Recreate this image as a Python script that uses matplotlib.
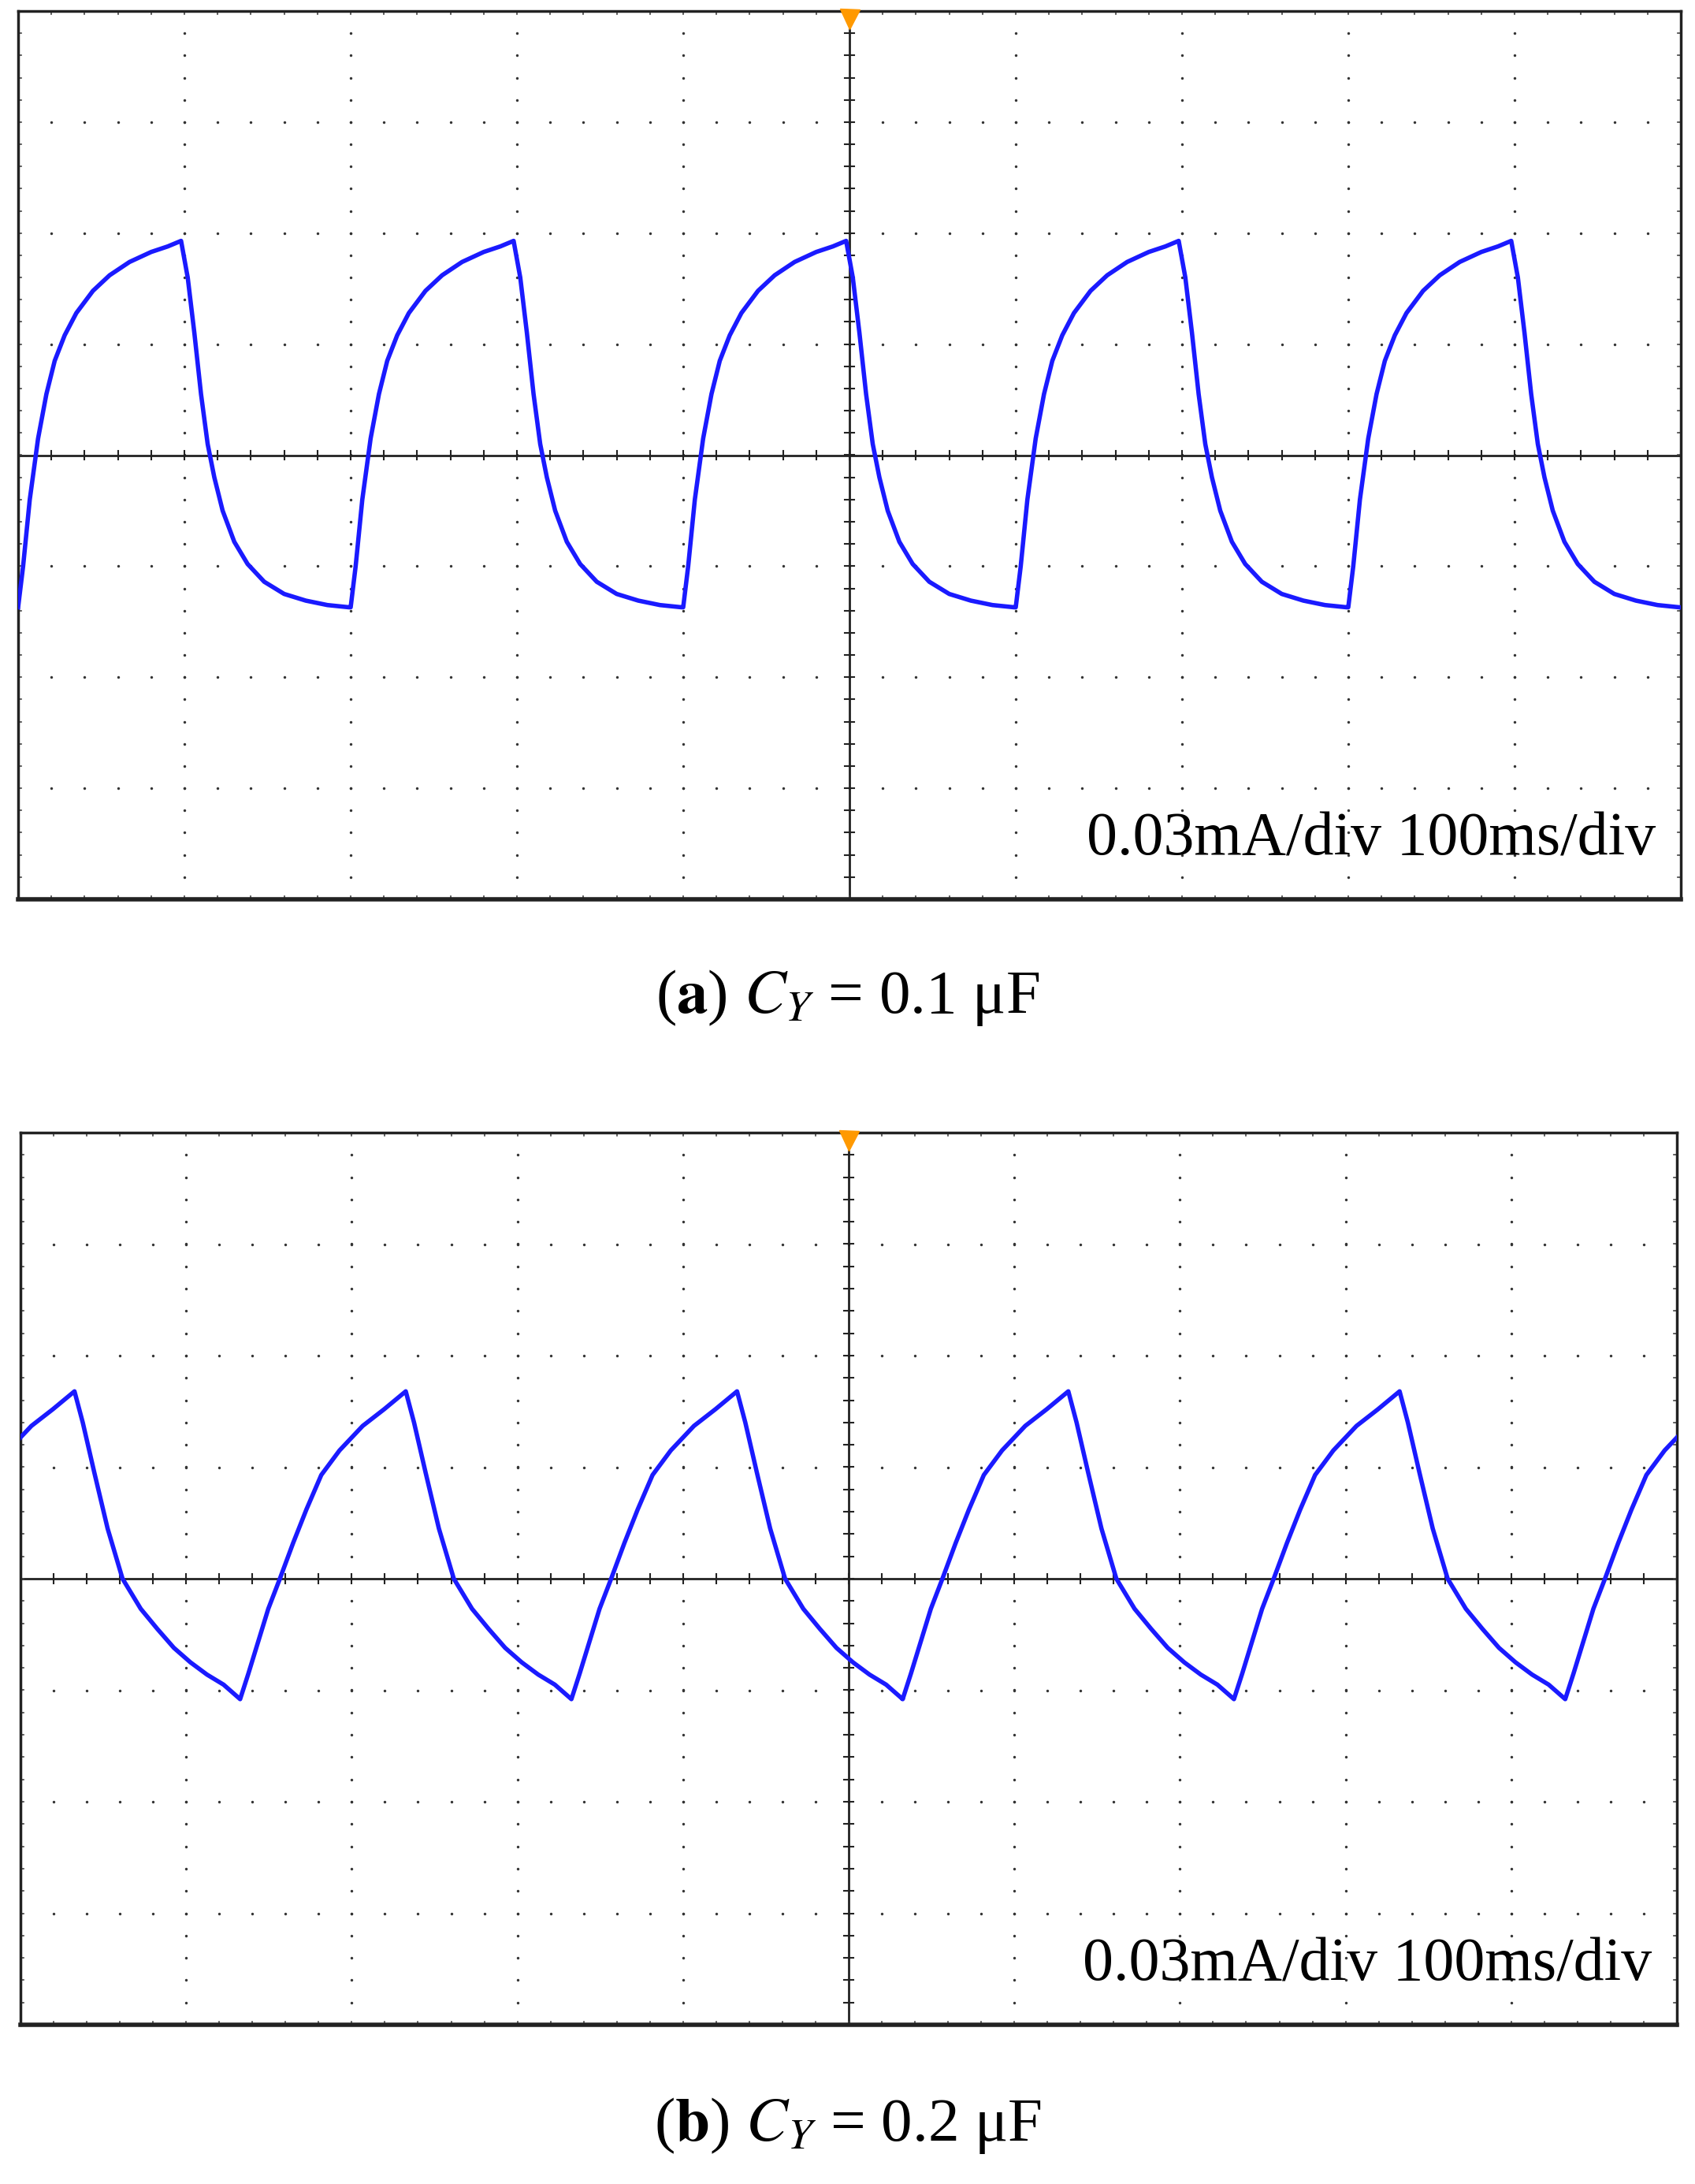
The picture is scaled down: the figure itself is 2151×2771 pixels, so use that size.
import numpy as np
import matplotlib.pyplot as plt

# Panel (a): one cycle profile (phase in div from rise start, value in div)
a_phase = [0.0, 0.03, 0.07, 0.12, 0.17, 0.22, 0.28, 0.35, 0.45, 0.55, 0.67, 0.8, 0.9, 0.98,
           1.02, 1.06, 1.1, 1.14, 1.18, 1.23, 1.3, 1.38, 1.48, 1.6, 1.73, 1.86, 1.99]
a_value = [-1.37, -1.0, -0.4, 0.15, 0.55, 0.85, 1.08, 1.28, 1.48, 1.62, 1.74, 1.83, 1.88, 1.93,
           1.6, 1.1, 0.55, 0.1, -0.2, -0.5, -0.78, -0.98, -1.14, -1.25, -1.31, -1.35, -1.37]
a_starts = [0, 2, 4, 6, 8]
# Panel (b): profile from low point
b_phase = [0.0, 0.05, 0.11, 0.17, 0.24, 0.32, 0.4, 0.49, 0.6, 0.74, 0.87, 1.0,
           1.05, 1.12, 1.2, 1.29, 1.4, 1.5, 1.6, 1.7, 1.8, 1.9, 2.0]
b_value = [-1.08, -0.85, -0.56, -0.27, 0.0, 0.32, 0.62, 0.93, 1.15, 1.37, 1.52, 1.68,
           1.4, 0.95, 0.45, 0.0, -0.27, -0.45, -0.62, -0.75, -0.86, -0.95, -1.08]
b_starts = [-0.674, 1.326, 3.326, 5.326, 7.326, 9.326]

W, H = 2151, 2771
fig = plt.figure(figsize=(W/100, H/100), dpi=100)
serif = ['Liberation Serif', 'DejaVu Serif']

def build(phase, value, starts):
    t, v = [], []
    for s in starts:
        t += [s + p for p in phase]
        v += value
    return np.array(t), np.array(v)

def panel(rect, phase, value, starts):
    ax = fig.add_axes(rect)
    ax.set_xlim(0, 10); ax.set_ylim(-4, 4)
    ax.set_xticks([]); ax.set_yticks([])
    for s in ax.spines.values():
        s.set_linewidth(2.5); s.set_color('#222222')
    ax.spines['bottom'].set_linewidth(4)
    gx, gy = [], []
    for xi in range(1, 10):
        if xi == 5: continue
        for yy in np.arange(-4, 4.01, 0.2):
            gx.append(xi); gy.append(yy)
    for yi in range(-3, 4):
        if yi == 0: continue
        for xx in np.arange(0, 10.01, 0.2):
            gx.append(xx); gy.append(yi)
    ax.scatter(gx, gy, s=6, c='#333333', lw=0, zorder=1)
    ax.axhline(0, color='#222222', lw=2, zorder=2)
    ax.axvline(5, color='#222222', lw=2, zorder=2)
    for xx in np.arange(0, 10.01, 0.2):
        ax.plot([xx, xx], [-0.04, 0.04], color='#222222', lw=1.5, zorder=2)
        ax.plot([xx, xx], [4, 3.97], color='#444444', lw=1.2)
        ax.plot([xx, xx], [-4, -3.97], color='#444444', lw=1.2)
    for yy in np.arange(-4, 4.01, 0.2):
        ax.plot([4.97, 5.03], [yy, yy], color='#222222', lw=1.5, zorder=2)
        ax.plot([0, 0.02], [yy, yy], color='#444444', lw=1.2)
        ax.plot([10, 9.98], [yy, yy], color='#444444', lw=1.2)
    t, v = build(phase, value, starts)
    ax.plot(t, v, color='#1a1aff', lw=4, zorder=3)
    ax.plot([5], [3.93], marker='v', ms=18, color='#ff9900', clip_on=False, zorder=5)
    ax.text(9.85, -3.6, '0.03mA/div 100ms/div', ha='right', va='baseline',
            fontsize=56, family=serif)
    return ax

panel([23/W, 1 - 1141/H, 2110/W, 1127/H], a_phase, a_value, a_starts)
panel([26/W, 1 - 2569/H, 2102/W, 1132/H], b_phase, b_value, b_starts)

for y, lab, cap in [(1266, 'a', '0.1'), (2697, 'b', '0.2')]:
    fig.text(0.5, 1 - y/H, r'($\mathbf{' + lab + r'}$) $C_{Y}$ = ' + cap + ' μF',
             ha='center', va='center', fontsize=57, family=serif,
             math_fontfamily='stix')

fig.savefig('out.png', dpi=100)
